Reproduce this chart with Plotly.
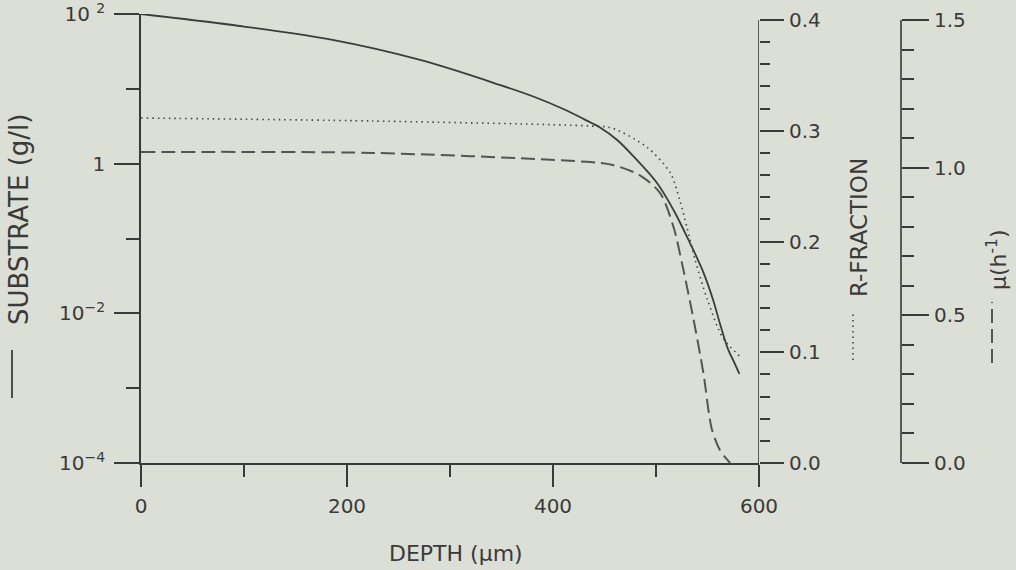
import plotly.graph_objects as go

# ---- data ----
depth_substrate = [0, 89, 186, 271, 349, 384, 410, 430, 446, 462, 478, 501, 517, 533, 545, 555, 563, 570, 576, 581]
substrate = [100, 71.3, 45.0, 24.3, 11.2, 7.6, 5.37, 3.94, 3.02, 2.09, 1.26, 0.552, 0.24, 0.087,
             0.038, 0.0158, 0.0066, 0.0033, 0.0022, 0.00155]

depth_rfrac = [0, 225, 436, 457, 491, 514, 523, 530, 538, 550, 565, 582]
rfrac = [0.3115, 0.3088, 0.3043, 0.3025, 0.2853, 0.2619, 0.2375, 0.2131, 0.1833, 0.1472, 0.1129, 0.0957]

depth_mu = [0, 225, 436, 458, 484, 504, 517, 526, 536, 546, 554, 562, 572]
mu = [1.053, 1.050, 1.019, 1.009, 0.975, 0.914, 0.799, 0.664, 0.494, 0.305, 0.118, 0.044, 0.0]

x_tickvals = [0, 200, 400, 600]
x_ticktext = ["0", "200", "400", "600"]
x_minor = [100, 300, 500]

y_tickvals = [1e-4, 1e-2, 1, 1e2]
y_ticktext = ["10<sup>−4</sup>", "10<sup>−2</sup>", "1", "10 <sup>2</sup>"]
y_minor = [1e-3, 1e-1, 1e1]

r_tickvals = [0, 0.1, 0.2, 0.3, 0.4]
r_ticktext = ["0.0", "0.1", "0.2", "0.3", "0.4"]
r_minor = [0.02, 0.04, 0.06, 0.08, 0.12, 0.14, 0.16, 0.18, 0.22, 0.24, 0.26, 0.28, 0.32, 0.34, 0.36, 0.38]

mu_tickvals = [0, 0.5, 1.0, 1.5]
mu_ticktext = ["0.0", "0.5", "1.0", "1.5"]
mu_minor = [0.1, 0.2, 0.3, 0.4, 0.6, 0.7, 0.8, 0.9, 1.1, 1.2, 1.3, 1.4]

# ---- layout geometry (pixels) ----
W, H = 1016, 570
L, R, T, B = 141, 0, 14, 107
PW = W - L - R
PH = H - T - B
X_END = 759            # pixel of depth 600 / R axis
MU_X = 901             # pixel of mu axis
R_TOP_PX = 20          # pixel of R=0.4 and mu=1.5
AX_BOTTOM = T + PH


def px_x(p):
    return (p - L) / PW


def px_y(p):
    return (AX_BOTTOM - p) / PH


frac_top = (AX_BOTTOM - T) / (AX_BOTTOM - R_TOP_PX)

BG = "#dcdfd5"
INK = "#3a3a3a"
FONT = "DejaVu Sans"
LW = 1.6

fig = go.Figure()
fig.add_trace(go.Scatter(x=depth_substrate, y=substrate, mode="lines", yaxis="y",
                         line=dict(color="#3c3c3c", width=1.8, shape="spline", smoothing=1.0),
                         showlegend=False, hoverinfo="skip"))
fig.add_trace(go.Scatter(x=depth_rfrac, y=rfrac, mode="lines", yaxis="y2",
                         line=dict(color="#444444", width=1.6, dash="1.5px,4px", shape="spline", smoothing=0.8),
                         showlegend=False, hoverinfo="skip"))
fig.add_trace(go.Scatter(x=depth_mu, y=mu, mode="lines", yaxis="y3",
                         line=dict(color="#555555", width=2.0, dash="14px,6px", shape="spline", smoothing=0.8),
                         showlegend=False, hoverinfo="skip"))

tickfont = dict(family=FONT, size=20, color=INK)

fig.update_layout(
    width=W, height=H,
    margin=dict(l=L, r=R, t=T, b=B, autoexpand=False),
    paper_bgcolor=BG, plot_bgcolor=BG,
    xaxis=dict(domain=[0, (X_END - L) / PW], range=[0, 600],
               showline=True, linecolor=INK, linewidth=LW, mirror=False,
               ticks="outside", ticklen=22, tickwidth=LW, tickcolor=INK,
               tickvals=x_tickvals, ticktext=x_ticktext, tickfont=tickfont,
               ticklabelstandoff=2, ticklabeloverflow="allow",
               minor=dict(tickvals=x_minor, ticks="outside", ticklen=12, tickwidth=LW, tickcolor=INK),
               showgrid=False, zeroline=False),
    yaxis=dict(type="log", range=[-4.0002, 2.0002],
               showline=True, linecolor=INK, linewidth=LW,
               ticks="outside", ticklen=25, tickwidth=LW, tickcolor=INK,
               tickvals=y_tickvals, ticktext=y_ticktext, tickfont=tickfont,
               ticklabelstandoff=5, ticklabeloverflow="allow",
               minor=dict(tickvals=y_minor, ticks="outside", ticklen=13, tickwidth=LW, tickcolor=INK),
               showgrid=False, zeroline=False),
    yaxis2=dict(overlaying="y", side="right", anchor="x", range=[0, 0.4 * frac_top],
                showline=False, ticks="outside", ticklen=24, tickwidth=LW, tickcolor=INK,
                tickvals=r_tickvals, ticktext=r_ticktext, tickfont=tickfont,
                ticklabelstandoff=1, ticklabeloverflow="allow",
                minor=dict(tickvals=r_minor, ticks="outside", ticklen=10, tickwidth=LW, tickcolor=INK),
                showgrid=False, zeroline=False),
    yaxis3=dict(overlaying="y", side="right", anchor="free", position=px_x(MU_X),
                range=[0, 1.5 * frac_top],
                showline=False, ticks="outside", ticklen=27, tickwidth=LW, tickcolor=INK,
                tickvals=mu_tickvals, ticktext=mu_ticktext, tickfont=tickfont,
                ticklabelstandoff=1, ticklabeloverflow="allow",
                minor=dict(tickvals=mu_minor, ticks="outside", ticklen=12, tickwidth=LW, tickcolor=INK),
                showgrid=False, zeroline=False),
)

# right-hand axis lines (ending at their top tick)
fig.add_shape(type="line", xref="x", yref="y2", x0=600, x1=600, y0=0, y1=0.4,
              line=dict(color=INK, width=LW))
fig.add_shape(type="line", xref="paper", yref="y3", x0=px_x(MU_X), x1=px_x(MU_X), y0=0, y1=1.5,
              line=dict(color=INK, width=LW))

# line-style keys next to axis titles
fig.add_shape(type="line", xref="paper", yref="paper", x0=px_x(12), x1=px_x(12),
              y0=px_y(398), y1=px_y(350), line=dict(color="#3c3c3c", width=1.8))
fig.add_shape(type="line", xref="paper", yref="paper", x0=px_x(853), x1=px_x(853),
              y0=px_y(360), y1=px_y(312), line=dict(color="#444444", width=1.6, dash="1.5px,4px"))
fig.add_shape(type="line", xref="paper", yref="paper", x0=px_x(992), x1=px_x(992),
              y0=px_y(363), y1=px_y(302), line=dict(color="#555555", width=2.0, dash="14px,6px"))

# axis titles
fig.add_annotation(text="SUBSTRATE (g/l)", xref="paper", yref="paper",
                   x=px_x(19), y=px_y(220), textangle=-90, showarrow=False,
                   xanchor="center", yanchor="middle",
                   font=dict(family=FONT, size=26, color=INK))
fig.add_annotation(text="R-FRACTION", xref="paper", yref="paper",
                   x=px_x(859), y=px_y(228), textangle=-90, showarrow=False,
                   xanchor="center", yanchor="middle",
                   font=dict(family=FONT, size=23, color=INK))
fig.add_annotation(text="μ(h<sup>-1</sup>)", xref="paper", yref="paper",
                   x=px_x(997), y=px_y(260), textangle=-90, showarrow=False,
                   xanchor="center", yanchor="middle",
                   font=dict(family=FONT, size=22, color=INK))
fig.add_annotation(text="DEPTH (μm)", xref="paper", yref="paper",
                   x=px_x(456), y=px_y(553), showarrow=False,
                   xanchor="center", yanchor="middle",
                   font=dict(family=FONT, size=22, color=INK))

fig.write_html("out.html", config=dict(displayModeBar=False))
